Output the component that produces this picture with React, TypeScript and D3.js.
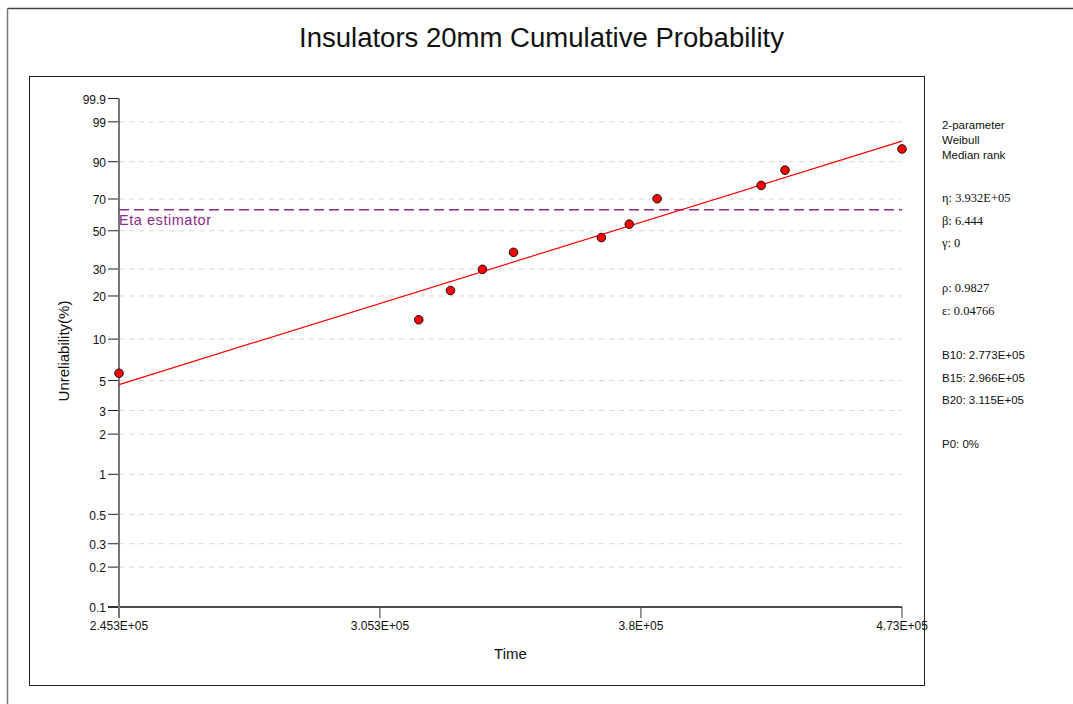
import React from "react";
import * as d3 from "d3";

const title = "Insulators 20mm Cumulative Probability";
const times = [2.453e5, 3.154e5, 3.239e5, 3.327e5, 3.415e5, 3.676e5, 3.763e5, 3.852e5, 4.203e5, 4.288e5, 4.73e5];
const unreliability = [5.65, 13.71, 21.77, 29.84, 37.9, 45.97, 54.03, 70.16, 78.23, 86.29, 94.35];
const yTicks = [0.1, 0.2, 0.3, 0.5, 1, 2, 3, 5, 10, 20, 30, 50, 70, 90, 99, 99.9];
const xTicks = [2.453e5, 3.053e5, 3.8e5, 4.73e5];
const xTickLabels = ["2.453E+05", "3.053E+05", "3.8E+05", "4.73E+05"];
const eta = 3.932e5;
const beta = 6.444;
const etaPct = 63.2;
const infoSans1 = ["2-parameter", "Weibull", "Median rank"];
const infoSerif = ["η: 3.932E+05", "β: 6.444", "γ: 0"];
const infoSerif2 = ["ρ: 0.9827", "ε: 0.04766"];
const infoB = ["B10: 2.773E+05", "B15: 2.966E+05", "B20: 3.115E+05"];
const infoP = ["P0: 0%"];

const wt = (pct: number) => Math.log(-Math.log(1 - pct / 100));

export default function App() {
  const x = d3.scaleLog().domain([xTicks[0], xTicks[xTicks.length - 1]]).range([119, 902]);
  const y = d3.scaleLinear().domain([wt(0.1), wt(99.9)]).range([607, 98.5]);
  const yp = (p: number) => y(wt(p));
  const [x0, x1] = x.range();
  const fitP = (t: number) => 100 * (1 - Math.exp(-Math.pow(t / eta, beta)));
  const dom = x.domain();
  const sans = "'Liberation Sans', Arial, sans-serif";
  const serif = "'Liberation Serif', 'Times New Roman', serif";

  return (
    <svg width={1073} height={704} style={{ position: "absolute", left: 0, top: 0, background: "#fff" }}>
      {/* outer frame */}
      <line x1={7.5} y1={8.5} x2={1073} y2={8.5} stroke="#444" strokeWidth={1.5} />
      <line x1={7.5} y1={8.5} x2={7.5} y2={704} stroke="#777" strokeWidth={1.5} />
      <text x={541.5} y={47} textAnchor="middle" fontFamily={sans} fontSize={27} fill="#111" textLength={485} lengthAdjust="spacingAndGlyphs">{title}</text>
      {/* plot frame */}
      <rect x={29.5} y={76.5} width={895} height={609} fill="none" stroke="#222" strokeWidth={1} />
      {/* grid */}
      {yTicks.filter((t) => t > 0.1 && t < 99.9).map((t) => (
        <line key={"g" + t} x1={x0} x2={x1} y1={yp(t)} y2={yp(t)} stroke="#d6d6d6" strokeWidth={1} strokeDasharray="5,5" />
      ))}
      {/* y ticks & labels */}
      {yTicks.map((t) => (
        <g key={"y" + t}>
          <line x1={108} x2={x0} y1={yp(t)} y2={yp(t)} stroke="#222" strokeWidth={1} />
          <text x={106} y={yp(t) + 1} dy="0.35em" textAnchor="end" fontFamily={sans} fontSize={12} fill="#111">{t}</text>
        </g>
      ))}
      {/* x axis */}
      <line x1={108} x2={x1} y1={yp(0.1)} y2={yp(0.1)} stroke="#111" strokeWidth={1.5} />
      {xTicks.map((t, i) => (
        <g key={"x" + t}>
          <line x1={x(t)} x2={x(t)} y1={yp(0.1)} y2={yp(0.1) + 11} stroke="#333" strokeWidth={1} />
          <text x={x(t)} y={yp(0.1) + 19} dy="0.35em" textAnchor="middle" fontFamily={sans} fontSize={12} fill="#111">{xTickLabels[i]}</text>
        </g>
      ))}
      {/* y axis */}
      <line x1={x0} x2={x0} y1={yp(99.9)} y2={yp(0.1) + 11} stroke="#777" strokeWidth={2} />
      <text transform={`translate(69,351) rotate(-90)`} textAnchor="middle" fontFamily={sans} fontSize={15} fill="#111">Unreliability(%)</text>
      <text x={510.5} y={659} textAnchor="middle" fontFamily={sans} fontSize={15} fill="#111">Time</text>
      {/* eta estimator */}
      <line x1={x0} x2={x1} y1={yp(etaPct)} y2={yp(etaPct)} stroke="#8E2A8E" strokeWidth={1.5} strokeDasharray="10,5" />
      <text x={119} y={yp(etaPct) + 15} fontFamily={sans} fontSize={14.5} fill="#8E2A8E" textLength={92} lengthAdjust="spacing">Eta estimator</text>
      {/* fit line */}
      <line x1={x(dom[0])} y1={yp(fitP(dom[0]))} x2={x(dom[1])} y2={yp(fitP(dom[1]))} stroke="#ff0000" strokeWidth={1.2} />
      {/* points */}
      {times.map((t, i) => (
        <circle key={"p" + i} cx={x(t)} cy={yp(unreliability[i])} r={4.3} fill="#ff0000" stroke="#111" strokeWidth={1} />
      ))}
      {/* info panel */}
      {infoSans1.map((s, i) => (
        <text key={"a" + i} x={942} y={129 + i * 15} fontFamily={sans} fontSize={11.5} fill="#111">{s}</text>
      ))}
      {infoSerif.map((s, i) => (
        <text key={"b" + i} x={942} y={202 + i * 22.5} fontFamily={serif} fontSize={12.5} fill="#111">{s}</text>
      ))}
      {infoSerif2.map((s, i) => (
        <text key={"c" + i} x={942} y={292 + i * 22.5} fontFamily={serif} fontSize={12.5} fill="#111">{s}</text>
      ))}
      {infoB.map((s, i) => (
        <text key={"d" + i} x={942} y={359 + i * 22.5} fontFamily={sans} fontSize={11.5} fill="#111">{s}</text>
      ))}
      {infoP.map((s, i) => (
        <text key={"e" + i} x={942} y={448 + i * 22.5} fontFamily={sans} fontSize={11.5} fill="#111">{s}</text>
      ))}
    </svg>
  );
}
